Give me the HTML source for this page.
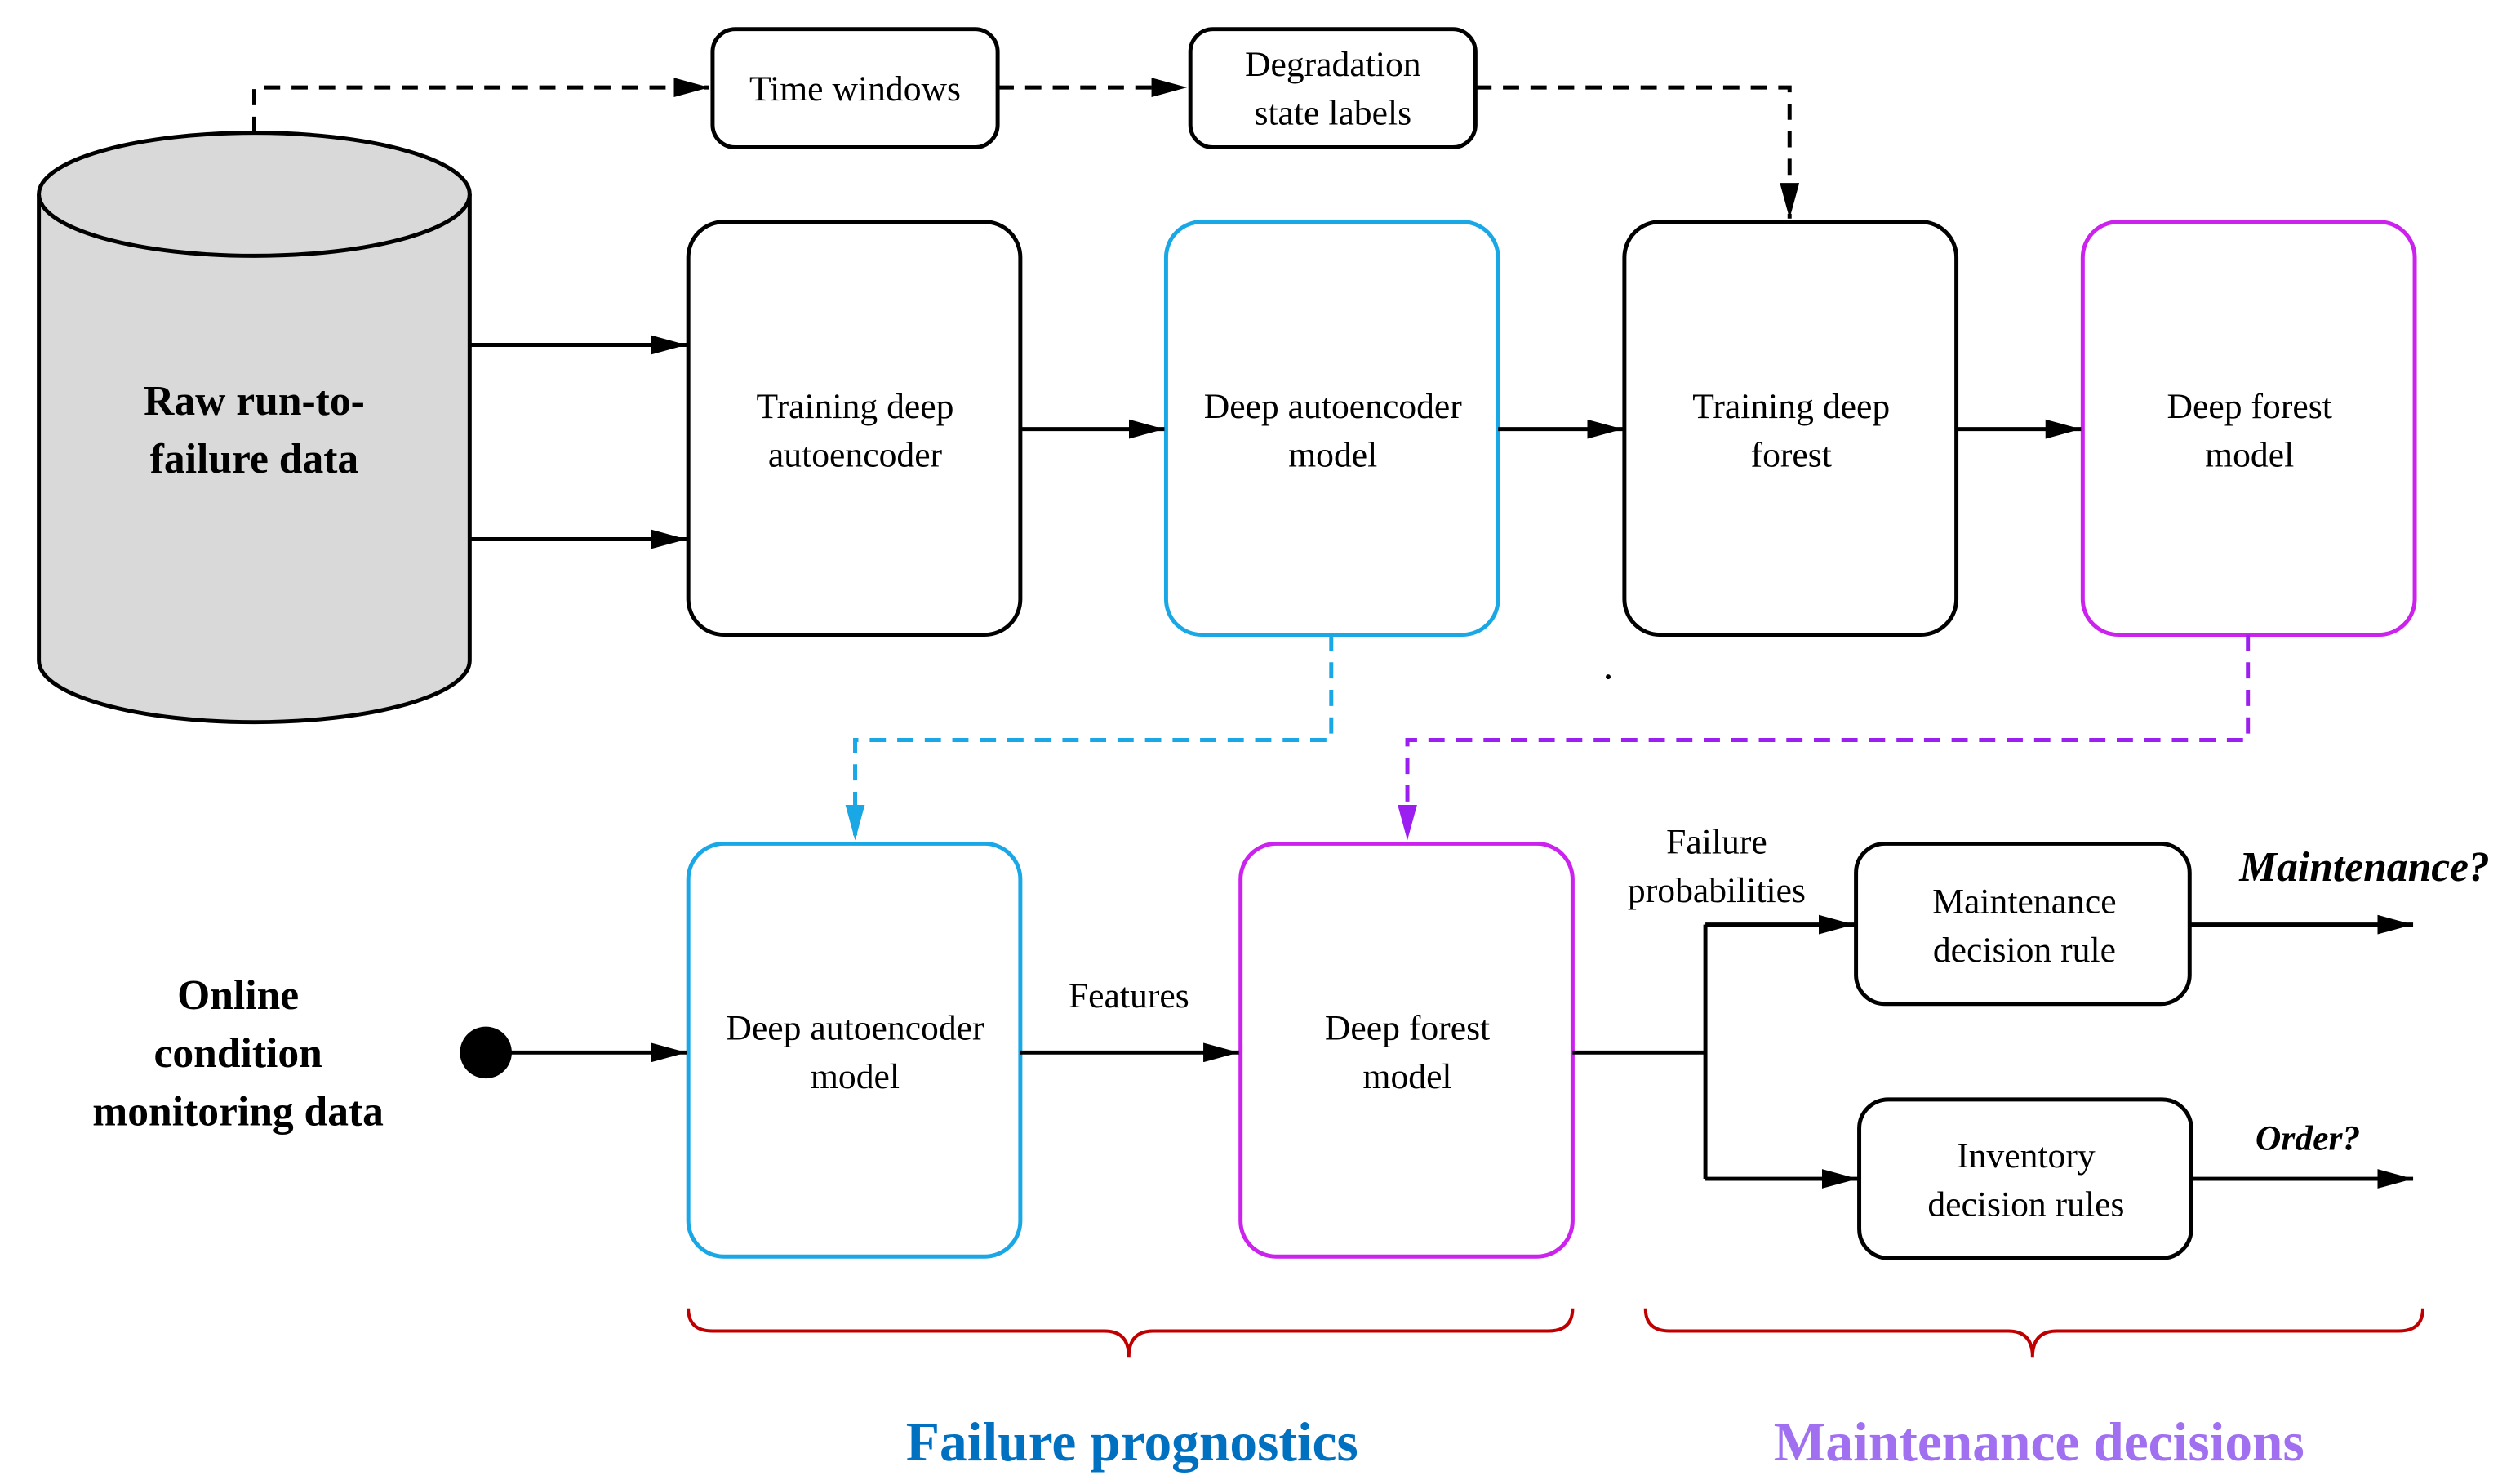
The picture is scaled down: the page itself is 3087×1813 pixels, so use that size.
<!DOCTYPE html>
<html><head><meta charset="utf-8"><style>html,body{margin:0;padding:0;background:#fff}svg{display:block}text{font-family:"Liberation Serif","DejaVu Serif",serif}</style></head>
<body>
<svg width="3087" height="1813" viewBox="0 0 1556 914" preserveAspectRatio="none" xmlns="http://www.w3.org/2000/svg">
<defs>
<marker id="a" viewBox="0 0 22 12" markerWidth="22" markerHeight="12" refX="22" refY="6" orient="auto" markerUnits="userSpaceOnUse"><path d="M0,0 L22,6 L0,12Z" fill="#000"/></marker>
<marker id="ab" viewBox="0 0 22 12" markerWidth="22" markerHeight="12" refX="22" refY="6" orient="auto" markerUnits="userSpaceOnUse"><path d="M0,0 L22,6 L0,12Z" fill="#1aa7e6"/></marker>
<marker id="ap" viewBox="0 0 22 12" markerWidth="22" markerHeight="12" refX="22" refY="6" orient="auto" markerUnits="userSpaceOnUse"><path d="M0,0 L22,6 L0,12Z" fill="#9a1ff0"/></marker>
</defs>
<g fill="none" stroke-width="2.5">
<path d="M24,120 L24,408 A133,38 0 0 0 290,408 L290,120" fill="#d9d9d9" stroke="#000"/>
<ellipse cx="157" cy="120" rx="133" ry="38" fill="#d9d9d9" stroke="#000"/>
<rect x="440" y="18" width="176" height="73" rx="14" stroke="#000"/>
<rect x="735" y="18" width="176" height="73" rx="14" stroke="#000"/>
<rect x="425" y="137" width="205" height="255" rx="22" stroke="#000"/>
<rect x="720" y="137" width="205" height="255" rx="22" stroke="#1aa7e6"/>
<rect x="1003" y="137" width="205" height="255" rx="22" stroke="#000"/>
<rect x="1286" y="137" width="205" height="255" rx="22" stroke="#cc22ee"/>
<rect x="425" y="521" width="205" height="255" rx="22" stroke="#1aa7e6"/>
<rect x="766" y="521" width="205" height="255" rx="22" stroke="#cc22ee"/>
<rect x="1146" y="521" width="206" height="99" rx="18" stroke="#000"/>
<rect x="1148" y="679" width="205" height="98" rx="18" stroke="#000"/>
<path d="M157,82 V54 H438" stroke="#000" stroke-dasharray="10,7" marker-end="url(#a)"/>
<path d="M616,54 H733" stroke="#000" stroke-dasharray="10,7" marker-end="url(#a)"/>
<path d="M911,54 H1105 V135" stroke="#000" stroke-dasharray="10,7" marker-end="url(#a)"/>
<path d="M822,392 V457 H528 V519" stroke="#1aa7e6" stroke-dasharray="10,7" marker-end="url(#ab)"/>
<path d="M1388,392 V457 H869 V519" stroke="#9a1ff0" stroke-dasharray="10,7" marker-end="url(#ap)"/>
<g stroke="#000">
<path d="M290,213 H424" marker-end="url(#a)"/>
<path d="M290,333 H424" marker-end="url(#a)"/>
<path d="M630,265 H719" marker-end="url(#a)"/>
<path d="M925,265 H1002" marker-end="url(#a)"/>
<path d="M1208,265 H1285" marker-end="url(#a)"/>
<path d="M300,650 H424" marker-end="url(#a)"/>
<path d="M630,650 H765" marker-end="url(#a)"/>
<path d="M971,650 H1053"/>
<path d="M1053,571 V728"/>
<path d="M1053,571 H1145" marker-end="url(#a)"/>
<path d="M1053,728 H1147" marker-end="url(#a)"/>
<path d="M1352,571 H1490" marker-end="url(#a)"/>
<path d="M1353,728 H1490" marker-end="url(#a)"/>
</g>
<path d="M425,808 Q425,822 440,822 H682 Q697,822 697,838 Q697,822 712,822 H956 Q971,822 971,808" stroke="#c00000" stroke-width="2"/>
<path d="M1016,808 Q1016,822 1031,822 H1240 Q1255,822 1255,838 Q1255,822 1270,822 H1481 Q1496,822 1496,808" stroke="#c00000" stroke-width="2"/>
</g>
<circle cx="300" cy="650" r="16" fill="#000"/>
<circle cx="993" cy="418" r="1.5" fill="#000"/>
<g font-size="22" text-anchor="middle" fill="#000">
<text x="528" y="62">Time windows</text>
<text x="823" y="47">Degradation</text><text x="823" y="77">state labels</text>
<text x="528" y="258">Training deep</text><text x="528" y="288">autoencoder</text>
<text x="823" y="258">Deep autoencoder</text><text x="823" y="288">model</text>
<text x="1106" y="258">Training deep</text><text x="1106" y="288">forest</text>
<text x="1389" y="258">Deep forest</text><text x="1389" y="288">model</text>
<text x="528" y="642">Deep autoencoder</text><text x="528" y="672">model</text>
<text x="869" y="642">Deep forest</text><text x="869" y="672">model</text>
<text x="697" y="622">Features</text>
<text x="1060" y="527">Failure</text><text x="1060" y="557">probabilities</text>
<text x="1250" y="564">Maintenance</text><text x="1250" y="594">decision rule</text>
<text x="1251" y="721">Inventory</text><text x="1251" y="751">decision rules</text>
</g>
<g font-size="26" font-weight="bold" text-anchor="middle" fill="#000">
<text x="157" y="256">Raw run-to-</text><text x="157" y="292">failure data</text>
<text x="147" y="623">Online</text><text x="147" y="659">condition</text><text x="147" y="695">monitoring data</text>
<text x="1460" y="544" font-style="italic">Maintenance?</text>
<text x="1425" y="710" font-style="italic" font-size="22">Order?</text>
</g>
<text x="699" y="902" font-size="34" font-weight="bold" text-anchor="middle" fill="#0070c0">Failure prognostics</text>
<text x="1259" y="902" font-size="34" font-weight="bold" text-anchor="middle" fill="#a070f0">Maintenance decisions</text>
</svg>
</body></html>
